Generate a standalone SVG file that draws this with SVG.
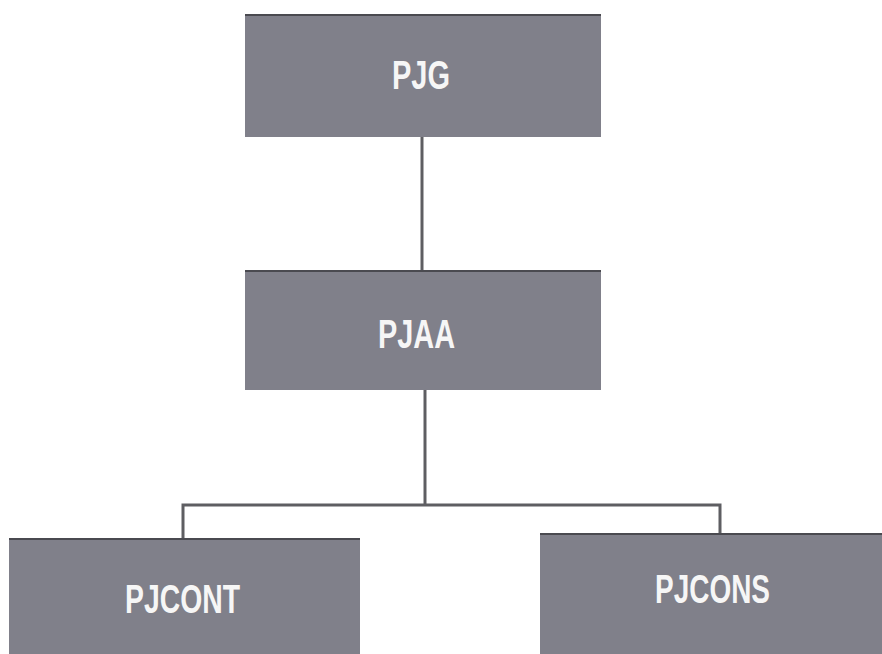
<svg xmlns="http://www.w3.org/2000/svg" width="882" height="654" viewBox="0 0 882 654">
<style>
.box{fill:#80808a;stroke:none}
.edge{stroke:#4a4a50;stroke-width:2}
.lbl{font-family:"Liberation Sans",Arial,sans-serif;font-weight:bold;font-size:41px;fill:#f6f6f6}
.conn{stroke:#5e5e62;stroke-width:3;fill:none}
</style>
<rect width="882" height="654" fill="#ffffff"/>
<g id="connectors">
<line class="conn" x1="422" y1="137" x2="422" y2="271"/>
<line class="conn" x1="425" y1="390" x2="425" y2="505"/>
<polyline class="conn" points="183,539 183,505 720,505 720,534"/>
</g>
<g id="node-pjg">
<rect class="box" x="245" y="15" width="356" height="122"/>
<line class="edge" x1="245" y1="15" x2="601" y2="15"/>
<text class="lbl" x="392" y="89" textLength="58" lengthAdjust="spacingAndGlyphs">PJG</text>
</g>
<g id="node-pjaa">
<rect class="box" x="245" y="271" width="356" height="119"/>
<line class="edge" x1="245" y1="271" x2="601" y2="271"/>
<text class="lbl" x="378" y="348" textLength="77" lengthAdjust="spacingAndGlyphs">PJAA</text>
</g>
<g id="node-pjcont">
<rect class="box" x="9" y="539" width="351" height="115"/>
<line class="edge" x1="9" y1="539" x2="360" y2="539"/>
<text class="lbl" x="125" y="613" textLength="115" lengthAdjust="spacingAndGlyphs">PJCONT</text>
</g>
<g id="node-pjcons">
<rect class="box" x="540" y="534" width="342" height="120"/>
<line class="edge" x1="540" y1="534" x2="882" y2="534"/>
<text class="lbl" x="655" y="603" textLength="115" lengthAdjust="spacingAndGlyphs">PJCONS</text>
</g>
</svg>
